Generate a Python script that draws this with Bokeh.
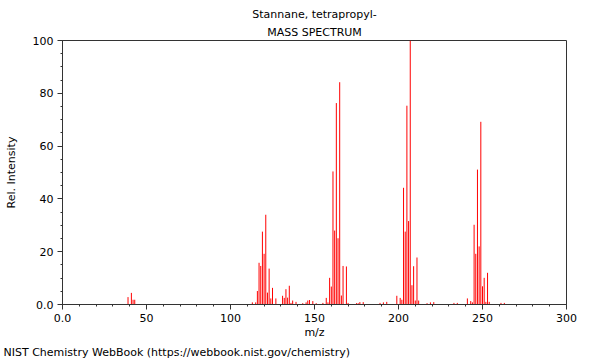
from bokeh.plotting import figure
from bokeh.models import (Range1d, Title, CustomJSTickFormatter, SingleIntervalTicker,
                          ColumnDataSource)
from bokeh.embed import file_html
from bokeh.resources import INLINE

compound = "Stannane, tetrapropyl-"
subtitle = "MASS SPECTRUM"
footer = "NIST Chemistry WebBook (https://webbook.nist.gov/chemistry)"

mz = [39, 41, 42, 43,
      113, 115, 116, 117, 118, 119, 120, 121, 122, 123, 124, 125, 127,
      131, 132, 133, 134, 135, 136, 137, 139,
      143, 145, 146, 147, 149, 151, 155, 157, 158, 159, 160, 161, 162, 163,
      164, 165, 166, 167, 169, 170, 175, 176, 177, 179,
      189, 191, 193, 199, 201, 202, 203, 204, 205, 206, 207, 208, 209, 210,
      211, 212, 217, 219, 221, 233, 235,
      241, 243, 244, 245, 246, 247, 248, 249, 250, 251, 252, 253, 254, 261, 263]
rel_intensity = [2.8, 4.4, 1.8, 1.8,
                 0.8, 0.8, 5.1, 15.8, 14.6, 27.6, 19.2, 34.0, 4.5, 13.6, 2.3, 6.3, 2.3,
                 3.3, 2.5, 5.8, 2.6, 7.1, 0.6, 1.5, 1.0,
                 0.5, 0.8, 1.5, 1.7, 1.3, 0.5, 0.6, 2.5, 0.8, 10.1, 6.8, 50.4, 28.0, 76.3,
                 25.1, 84.2, 3.4, 14.6, 14.4, 0.6, 0.5, 0.5, 0.9, 0.9,
                 0.6, 0.8, 1.0, 3.3, 2.5, 1.8, 44.2, 27.6, 75.3, 31.6, 100.0, 7.3, 14.5, 1.5,
                 17.8, 1.5, 0.5, 0.8, 0.9, 0.6, 0.6,
                 2.3, 1.3, 0.8, 30.2, 19.2, 51.1, 22.0, 69.2, 6.9, 10.1, 1.0, 12.0, 1.0, 0.6, 0.6]

FONT = "DejaVu Sans"
FS = "11px"
DARK = "#333333"

src = ColumnDataSource(dict(mz=mz, base=[0] * len(mz), inten=rel_intensity))

p = figure(width=600, height=360, output_backend="svg", toolbar_location=None,
           x_range=Range1d(0, 300), y_range=Range1d(0, 100),
           min_border_left=62, min_border_right=34, min_border_top=40, min_border_bottom=0)
p.segment(x0="mz", y0="base", x1="mz", y1="inten", source=src,
          line_color="#ff0000", line_width=1)

p.xgrid.visible = False
p.ygrid.visible = False
p.outline_line_color = DARK
p.outline_line_width = 1
p.background_fill_color = "white"
p.border_fill_color = "white"

fmt = CustomJSTickFormatter(code="return tick == 0 ? '0.0' : tick.toFixed(0);")
p.xaxis.ticker = SingleIntervalTicker(interval=50, num_minor_ticks=5)
p.yaxis.ticker = SingleIntervalTicker(interval=20, num_minor_ticks=4)
for ax in (p.xaxis[0], p.yaxis[0]):
    ax.formatter = fmt
    ax.axis_line_color = DARK
    ax.major_tick_line_color = DARK
    ax.minor_tick_line_color = DARK
    ax.major_tick_in = 0
    ax.major_tick_out = 5
    ax.minor_tick_in = 0
    ax.minor_tick_out = 2
    ax.major_label_text_font = FONT
    ax.major_label_text_font_size = FS
    ax.major_label_text_color = "black"
    ax.axis_label_text_font = FONT
    ax.axis_label_text_font_size = FS
    ax.axis_label_text_font_style = "normal"
    ax.axis_label_text_color = "black"
    ax.major_label_standoff = 4
p.xaxis.major_label_standoff = 4
p.xaxis.axis_label = "m/z"
p.yaxis.axis_label = "Rel. Intensity"
p.xaxis.axis_label_standoff = 1
p.yaxis.axis_label_standoff = 12

t2 = Title(text=subtitle, align="center", text_font=FONT, text_font_size=FS,
           text_font_style="normal", text_color="black", standoff=4)
t1 = Title(text=compound, align="center", text_font=FONT, text_font_size=FS,
           text_font_style="normal", text_color="black", standoff=2)
p.add_layout(t2, "above")
p.add_layout(t1, "above")

tf = Title(text=footer, align="left", text_font=FONT, text_font_size=FS,
           text_font_style="normal", text_color="black", offset=-59, standoff=4)
p.add_layout(tf, "below")

open("out.html", "w").write(file_html(p, INLINE))
